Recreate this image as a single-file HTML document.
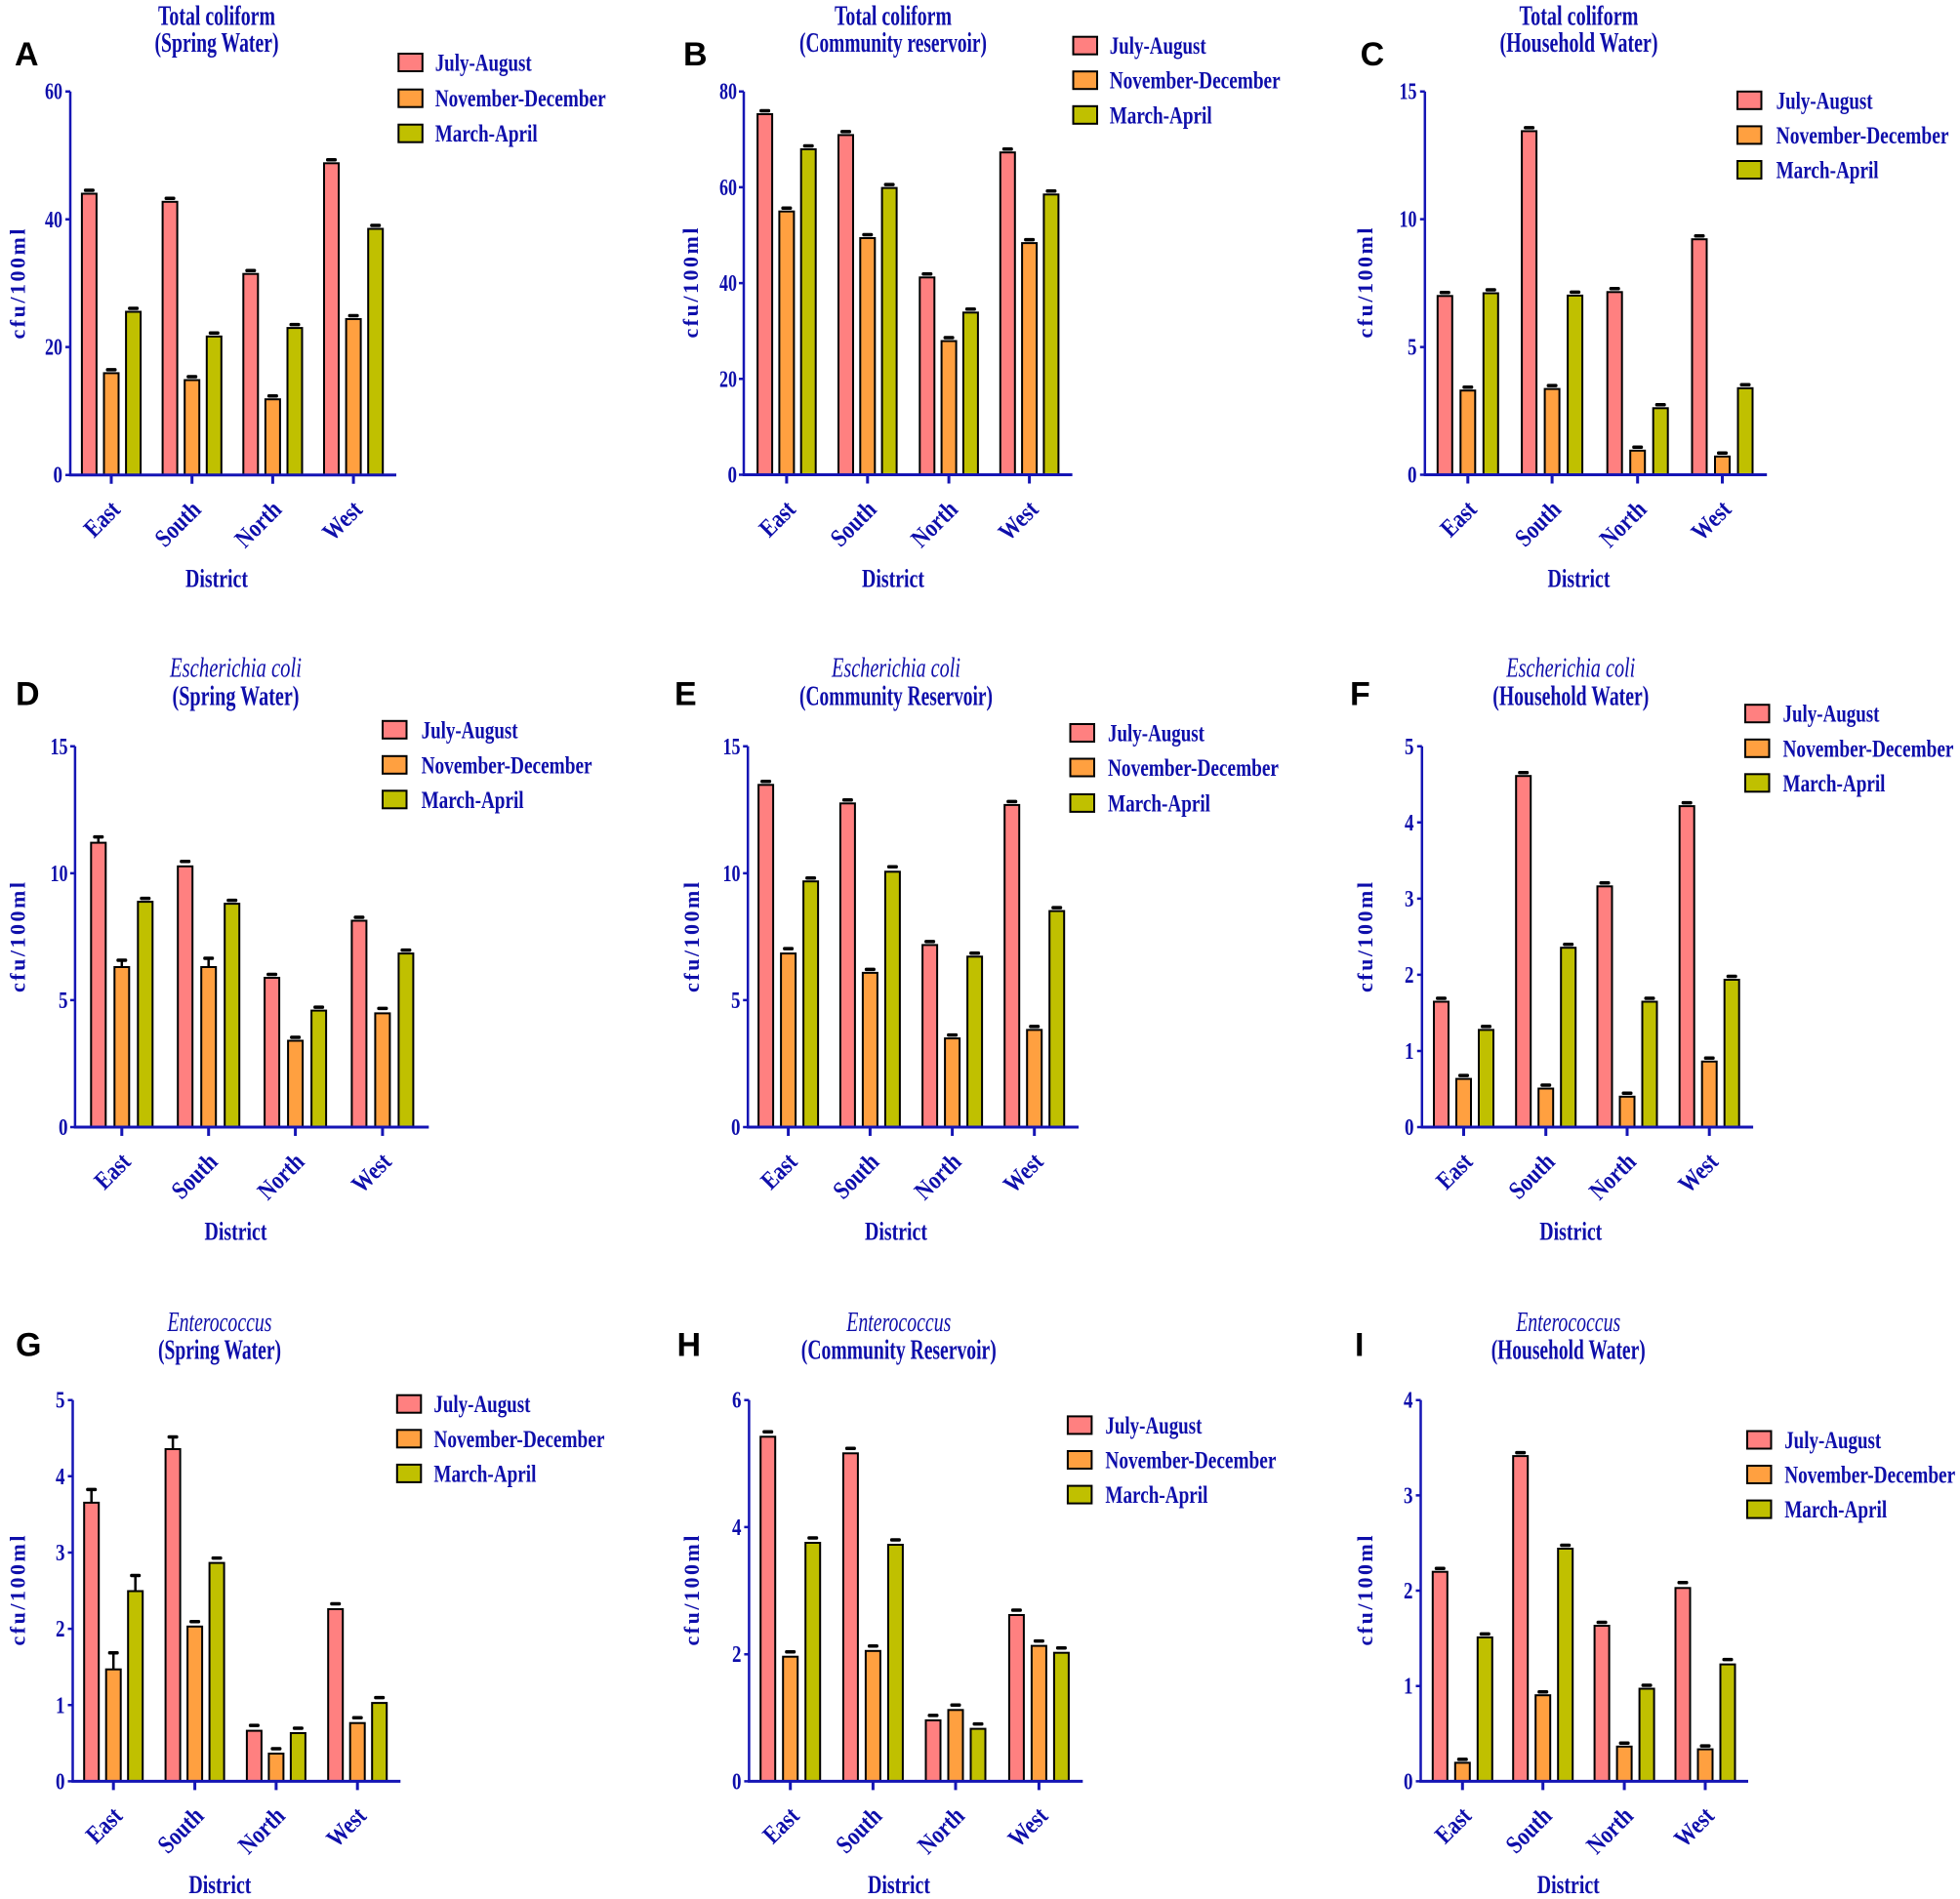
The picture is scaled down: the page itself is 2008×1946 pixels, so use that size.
<!DOCTYPE html>
<html><head><meta charset="utf-8"><style>
html,body{margin:0;padding:0;background:#fff}
svg{display:block}
.t{font-family:"Liberation Serif",serif;font-weight:bold;fill:#0e0eaa}
.ti{font-family:"Liberation Serif",serif;font-style:italic;fill:#0e0eaa}
.L{font-family:"Liberation Sans",sans-serif;font-weight:bold;fill:#000;font-size:34px}
.p{fill:#ff8080;stroke:#000;stroke-width:2}
.o{fill:#ffa040;stroke:#000;stroke-width:2}
.g{fill:#c0c000;stroke:#000;stroke-width:2}
.k{fill:#000}
.ax{stroke:#1515b5;fill:none}
.tk{font-size:24px;text-anchor:end}
.cat{font-size:26px;text-anchor:end}
.lg{font-size:25px}
.ttl{font-size:28px;text-anchor:middle}
.yl{font-size:22px;text-anchor:middle}
.xl{font-size:26px;text-anchor:middle}
</style></head><body>
<svg width="2008" height="1946" viewBox="0 0 2008 1946" xmlns="http://www.w3.org/2000/svg">
<rect width="2008" height="1946" fill="#fff"/>

<!-- ================= PANEL A ================= -->
<text class="L" x="15" y="67">A</text>
<text class="t ttl" x="222" y="25.5" textLength="120" lengthAdjust="spacingAndGlyphs">Total coliform</text>
<text class="t ttl" x="222" y="53" textLength="127" lengthAdjust="spacingAndGlyphs">(Spring Water)</text>
<rect class="p" x="83.9" y="198.5" width="15" height="288.2"/><rect class="k" x="85.9" y="193.25" width="11" height="3.5" rx="1.5"/>
<rect class="o" x="106.5" y="382.4" width="15" height="104.3"/><rect class="k" x="108.5" y="377.15" width="11" height="3.5" rx="1.5"/>
<rect class="g" x="129.1" y="319.5" width="15" height="167.2"/><rect class="k" x="131.1" y="314.25" width="11" height="3.5" rx="1.5"/>
<rect class="p" x="166.6" y="206.8" width="15" height="279.9"/><rect class="k" x="168.6" y="201.55" width="11" height="3.5" rx="1.5"/>
<rect class="o" x="189.2" y="389.5" width="15" height="97.2"/><rect class="k" x="191.2" y="384.25" width="11" height="3.5" rx="1.5"/>
<rect class="g" x="211.8" y="344.8" width="15" height="141.9"/><rect class="k" x="213.8" y="339.55" width="11" height="3.5" rx="1.5"/>
<rect class="p" x="249.3" y="280.7" width="15" height="206"/><rect class="k" x="251.3" y="275.45" width="11" height="3.5" rx="1.5"/>
<rect class="o" x="271.9" y="409.2" width="15" height="77.5"/><rect class="k" x="273.9" y="403.95" width="11" height="3.5" rx="1.5"/>
<rect class="g" x="294.5" y="336.1" width="15" height="150.6"/><rect class="k" x="296.5" y="330.85" width="11" height="3.5" rx="1.5"/>
<rect class="p" x="332" y="167.3" width="15" height="319.4"/><rect class="k" x="334" y="162.05" width="11" height="3.5" rx="1.5"/>
<rect class="o" x="354.6" y="327" width="15" height="159.7"/><rect class="k" x="356.6" y="321.75" width="11" height="3.5" rx="1.5"/>
<rect class="g" x="377.2" y="234.5" width="15" height="252.2"/><rect class="k" x="379.2" y="229.25" width="11" height="3.5" rx="1.5"/>
<path class="ax" stroke-width="2.5" d="M72 93.7V486.7M67 93.7H72M67 224.8H72M67 355.6H72M67 486.7H72"/>
<path class="ax" stroke-width="3" d="M70.8 486.7H406M114 486.7v9M196.7 486.7v9M279.4 486.7v9M362.1 486.7v9"/>
<text class="t tk" x="64" y="494.7" textLength="9.5" lengthAdjust="spacingAndGlyphs">0</text>
<text class="t tk" x="64" y="363.6" textLength="18" lengthAdjust="spacingAndGlyphs">20</text>
<text class="t tk" x="64" y="232.8" textLength="18" lengthAdjust="spacingAndGlyphs">40</text>
<text class="t tk" x="64" y="101.7" textLength="18" lengthAdjust="spacingAndGlyphs">60</text>
<text class="t yl" textLength="113" lengthAdjust="spacing" transform="translate(25.5,291) rotate(-90)">cfu/100ml</text>
<text class="t cat" textLength="40" lengthAdjust="spacingAndGlyphs" transform="translate(124.5,523.7) rotate(-45)">East</text>
<text class="t cat" textLength="54" lengthAdjust="spacingAndGlyphs" transform="translate(207.2,523.7) rotate(-45)">South</text>
<text class="t cat" textLength="55" lengthAdjust="spacingAndGlyphs" transform="translate(289.9,523.7) rotate(-45)">North</text>
<text class="t cat" textLength="45" lengthAdjust="spacingAndGlyphs" transform="translate(372.6,523.7) rotate(-45)">West</text>
<text class="t xl" x="222" y="601.5" textLength="64" lengthAdjust="spacingAndGlyphs">District</text>
<rect class="p" x="408.3" y="55" width="24.5" height="18"/>
<rect class="o" x="408.3" y="91.7" width="24.5" height="18"/>
<rect class="g" x="408.3" y="127.7" width="24.5" height="18"/>
<text class="t lg" x="445.7" y="72.5" textLength="99" lengthAdjust="spacingAndGlyphs">July-August</text>
<text class="t lg" x="445.7" y="109.2" textLength="175" lengthAdjust="spacingAndGlyphs">November-December</text>
<text class="t lg" x="445.7" y="145.2" textLength="105" lengthAdjust="spacingAndGlyphs">March-April</text>

<!-- ================= PANEL B ================= -->
<text class="L" x="700" y="67">B</text>
<text class="t ttl" x="915" y="25.5" textLength="120" lengthAdjust="spacingAndGlyphs">Total coliform</text>
<text class="t ttl" x="915" y="53" textLength="192" lengthAdjust="spacingAndGlyphs">(Community reservoir)</text>
<rect class="p" x="776.1" y="117" width="15" height="369.5"/><rect class="k" x="778.1" y="111.75" width="11" height="3.5" rx="1.5"/>
<rect class="o" x="798.4" y="216.7" width="15" height="269.8"/><rect class="k" x="800.4" y="211.45" width="11" height="3.5" rx="1.5"/>
<rect class="g" x="820.7" y="153" width="15" height="333.5"/><rect class="k" x="822.7" y="147.75" width="11" height="3.5" rx="1.5"/>
<rect class="p" x="859" y="138.4" width="15" height="348.1"/><rect class="k" x="861" y="133.15" width="11" height="3.5" rx="1.5"/>
<rect class="o" x="881.3" y="244" width="15" height="242.5"/><rect class="k" x="883.3" y="238.75" width="11" height="3.5" rx="1.5"/>
<rect class="g" x="903.6" y="192.6" width="15" height="293.9"/><rect class="k" x="905.6" y="187.35" width="11" height="3.5" rx="1.5"/>
<rect class="p" x="942.3" y="284.3" width="15" height="202.2"/><rect class="k" x="944.3" y="279.05" width="11" height="3.5" rx="1.5"/>
<rect class="o" x="964.6" y="349.5" width="15" height="137"/><rect class="k" x="966.6" y="344.25" width="11" height="3.5" rx="1.5"/>
<rect class="g" x="986.9" y="320.3" width="15" height="166.2"/><rect class="k" x="988.9" y="315.05" width="11" height="3.5" rx="1.5"/>
<rect class="p" x="1024.8" y="156.2" width="15" height="330.3"/><rect class="k" x="1026.8" y="150.95" width="11" height="3.5" rx="1.5"/>
<rect class="o" x="1047.1" y="249.1" width="15" height="237.4"/><rect class="k" x="1049.1" y="243.85" width="11" height="3.5" rx="1.5"/>
<rect class="g" x="1069.4" y="199.3" width="15" height="287.2"/><rect class="k" x="1071.4" y="194.05" width="11" height="3.5" rx="1.5"/>
<path class="ax" stroke-width="2.5" d="M762 93.7V486.5M757 93.7H762M757 191.9H762M757 290.1H762M757 388.3H762M757 486.5H762"/>
<path class="ax" stroke-width="3" d="M760.8 486.5H1098.6M805.9 486.5v9M888.8 486.5v9M972.1 486.5v9M1054.6 486.5v9"/>
<text class="t tk" x="755" y="494.5" textLength="9.5" lengthAdjust="spacingAndGlyphs">0</text>
<text class="t tk" x="755" y="396.3" textLength="18" lengthAdjust="spacingAndGlyphs">20</text>
<text class="t tk" x="755" y="298.1" textLength="18" lengthAdjust="spacingAndGlyphs">40</text>
<text class="t tk" x="755" y="199.9" textLength="18" lengthAdjust="spacingAndGlyphs">60</text>
<text class="t tk" x="755" y="101.7" textLength="18" lengthAdjust="spacingAndGlyphs">80</text>
<text class="t yl" textLength="113" lengthAdjust="spacing" transform="translate(715,290) rotate(-90)">cfu/100ml</text>
<text class="t cat" textLength="40" lengthAdjust="spacingAndGlyphs" transform="translate(816.4,523.5) rotate(-45)">East</text>
<text class="t cat" textLength="54" lengthAdjust="spacingAndGlyphs" transform="translate(899.3,523.5) rotate(-45)">South</text>
<text class="t cat" textLength="55" lengthAdjust="spacingAndGlyphs" transform="translate(982.6,523.5) rotate(-45)">North</text>
<text class="t cat" textLength="45" lengthAdjust="spacingAndGlyphs" transform="translate(1065.1,523.5) rotate(-45)">West</text>
<text class="t xl" x="915" y="601.5" textLength="64" lengthAdjust="spacingAndGlyphs">District</text>
<rect class="p" x="1099.5" y="37.7" width="24.5" height="18"/>
<rect class="o" x="1099.5" y="73.2" width="24.5" height="18"/>
<rect class="g" x="1099.5" y="108.8" width="24.5" height="18"/>
<text class="t lg" x="1136.7" y="55.2" textLength="99" lengthAdjust="spacingAndGlyphs">July-August</text>
<text class="t lg" x="1136.7" y="90.7" textLength="175" lengthAdjust="spacingAndGlyphs">November-December</text>
<text class="t lg" x="1136.7" y="126.3" textLength="105" lengthAdjust="spacingAndGlyphs">March-April</text>

<!-- ================= PANEL C ================= -->
<text class="L" x="1393.6" y="67">C</text>
<text class="t ttl" x="1617.5" y="25.5" textLength="122" lengthAdjust="spacingAndGlyphs">Total coliform</text>
<text class="t ttl" x="1617.5" y="53" textLength="162" lengthAdjust="spacingAndGlyphs">(Household Water)</text>
<rect class="p" x="1472.8" y="303.3" width="15" height="183.2"/><rect class="k" x="1474.8" y="298.05" width="11" height="3.5" rx="1.5"/>
<rect class="o" x="1496.3" y="400.2" width="15" height="86.3"/><rect class="k" x="1498.3" y="394.95" width="11" height="3.5" rx="1.5"/>
<rect class="g" x="1519.8" y="300.5" width="15" height="186"/><rect class="k" x="1521.8" y="295.25" width="11" height="3.5" rx="1.5"/>
<rect class="p" x="1559.1" y="134.4" width="15" height="352.1"/><rect class="k" x="1561.1" y="129.15" width="11" height="3.5" rx="1.5"/>
<rect class="o" x="1582.6" y="398.6" width="15" height="87.9"/><rect class="k" x="1584.6" y="393.35" width="11" height="3.5" rx="1.5"/>
<rect class="g" x="1606.1" y="302.9" width="15" height="183.6"/><rect class="k" x="1608.1" y="297.65" width="11" height="3.5" rx="1.5"/>
<rect class="p" x="1646.7" y="299.3" width="15" height="187.2"/><rect class="k" x="1648.7" y="294.05" width="11" height="3.5" rx="1.5"/>
<rect class="o" x="1670.2" y="461.8" width="15" height="24.7"/><rect class="k" x="1672.2" y="456.55" width="11" height="3.5" rx="1.5"/>
<rect class="g" x="1693.7" y="418.3" width="15" height="68.2"/><rect class="k" x="1695.7" y="413.05" width="11" height="3.5" rx="1.5"/>
<rect class="p" x="1733.5" y="245.2" width="15" height="241.3"/><rect class="k" x="1735.5" y="239.95" width="11" height="3.5" rx="1.5"/>
<rect class="o" x="1757" y="467.8" width="15" height="18.7"/><rect class="k" x="1759" y="462.55" width="11" height="3.5" rx="1.5"/>
<rect class="g" x="1780.5" y="397.8" width="15" height="88.7"/><rect class="k" x="1782.5" y="392.55" width="11" height="3.5" rx="1.5"/>
<path class="ax" stroke-width="2.5" d="M1459.8 93.7V486.5M1454.8 93.7H1459.8M1454.8 224.6H1459.8M1454.8 355.6H1459.8M1454.8 486.5H1459.8"/>
<path class="ax" stroke-width="3" d="M1458.6 486.5H1810.2M1503.8 486.5v9M1590.1 486.5v9M1677.7 486.5v9M1764.5 486.5v9"/>
<text class="t tk" x="1451.5" y="494.5" textLength="9.5" lengthAdjust="spacingAndGlyphs">0</text>
<text class="t tk" x="1451.5" y="363.6" textLength="9.5" lengthAdjust="spacingAndGlyphs">5</text>
<text class="t tk" x="1451.5" y="232.6" textLength="18" lengthAdjust="spacingAndGlyphs">10</text>
<text class="t tk" x="1451.5" y="101.7" textLength="18" lengthAdjust="spacingAndGlyphs">15</text>
<text class="t yl" textLength="113" lengthAdjust="spacing" transform="translate(1406,290) rotate(-90)">cfu/100ml</text>
<text class="t cat" textLength="40" lengthAdjust="spacingAndGlyphs" transform="translate(1514.3,523.5) rotate(-45)">East</text>
<text class="t cat" textLength="54" lengthAdjust="spacingAndGlyphs" transform="translate(1600.6,523.5) rotate(-45)">South</text>
<text class="t cat" textLength="55" lengthAdjust="spacingAndGlyphs" transform="translate(1688.2,523.5) rotate(-45)">North</text>
<text class="t cat" textLength="45" lengthAdjust="spacingAndGlyphs" transform="translate(1775,523.5) rotate(-45)">West</text>
<text class="t xl" x="1617.5" y="601.5" textLength="64" lengthAdjust="spacingAndGlyphs">District</text>
<rect class="p" x="1780" y="93.8" width="24.5" height="18"/>
<rect class="o" x="1780" y="129.4" width="24.5" height="18"/>
<rect class="g" x="1780" y="165" width="24.5" height="18"/>
<text class="t lg" x="1819.6" y="111.3" textLength="99" lengthAdjust="spacingAndGlyphs">July-August</text>
<text class="t lg" x="1819.6" y="146.9" textLength="177" lengthAdjust="spacingAndGlyphs">November-December</text>
<text class="t lg" x="1819.6" y="182.5" textLength="105" lengthAdjust="spacingAndGlyphs">March-April</text>

<!-- ================= PANEL D ================= -->
<text class="L" x="16" y="722.5">D</text>
<text class="ti ttl" x="241.5" y="693.7" textLength="135" lengthAdjust="spacingAndGlyphs">Escherichia coli</text>
<text class="t ttl" x="241.5" y="722.5" textLength="130" lengthAdjust="spacingAndGlyphs">(Spring Water)</text>
<rect class="p" x="93.3" y="863.6" width="15" height="291.4"/><rect class="k" x="99.55" y="857.6" width="2.5" height="6"/><rect class="k" x="95.3" y="855.85" width="11" height="3.5" rx="1.5"/>
<rect class="o" x="117.3" y="991" width="15" height="164"/><rect class="k" x="123.55" y="984" width="2.5" height="7"/><rect class="k" x="119.3" y="982.25" width="11" height="3.5" rx="1.5"/>
<rect class="g" x="141.3" y="924.1" width="15" height="230.9"/><rect class="k" x="143.3" y="918.85" width="11" height="3.5" rx="1.5"/>
<rect class="p" x="182.2" y="887.8" width="15" height="267.2"/><rect class="k" x="184.2" y="881.05" width="11" height="3.5" rx="1.5"/>
<rect class="o" x="206.2" y="991" width="15" height="164"/><rect class="k" x="212.45" y="982" width="2.5" height="9"/><rect class="k" x="208.2" y="980.25" width="11" height="3.5" rx="1.5"/>
<rect class="g" x="230.2" y="926.1" width="15" height="228.9"/><rect class="k" x="232.2" y="920.85" width="11" height="3.5" rx="1.5"/>
<rect class="p" x="271.1" y="1002" width="15" height="153"/><rect class="k" x="273.1" y="996.75" width="11" height="3.5" rx="1.5"/>
<rect class="o" x="295.1" y="1066.5" width="15" height="88.5"/><rect class="k" x="297.1" y="1061.25" width="11" height="3.5" rx="1.5"/>
<rect class="g" x="319.1" y="1035.6" width="15" height="119.4"/><rect class="k" x="321.1" y="1030.35" width="11" height="3.5" rx="1.5"/>
<rect class="p" x="360.4" y="943.5" width="15" height="211.5"/><rect class="k" x="362.4" y="938.25" width="11" height="3.5" rx="1.5"/>
<rect class="o" x="384.4" y="1038.4" width="15" height="116.6"/><rect class="k" x="386.4" y="1031.65" width="11" height="3.5" rx="1.5"/>
<rect class="g" x="408.4" y="977.1" width="15" height="177.9"/><rect class="k" x="410.4" y="971.85" width="11" height="3.5" rx="1.5"/>
<path class="ax" stroke-width="2.5" d="M76.9 764.8V1155M71.9 764.8H76.9M71.9 894.9H76.9M71.9 1024.9H76.9M71.9 1155H76.9"/>
<path class="ax" stroke-width="3" d="M75.7 1155H439.3M124.8 1155v9M213.7 1155v9M302.6 1155v9M391.9 1155v9"/>
<text class="t tk" x="69.5" y="1163" textLength="9.5" lengthAdjust="spacingAndGlyphs">0</text>
<text class="t tk" x="69.5" y="1032.9" textLength="9.5" lengthAdjust="spacingAndGlyphs">5</text>
<text class="t tk" x="69.5" y="902.9" textLength="18" lengthAdjust="spacingAndGlyphs">10</text>
<text class="t tk" x="69.5" y="772.8" textLength="18" lengthAdjust="spacingAndGlyphs">15</text>
<text class="t yl" textLength="113" lengthAdjust="spacing" transform="translate(25.5,960.5) rotate(-90)">cfu/100ml</text>
<text class="t cat" textLength="40" lengthAdjust="spacingAndGlyphs" transform="translate(135.3,1192) rotate(-45)">East</text>
<text class="t cat" textLength="54" lengthAdjust="spacingAndGlyphs" transform="translate(224.2,1192) rotate(-45)">South</text>
<text class="t cat" textLength="55" lengthAdjust="spacingAndGlyphs" transform="translate(313.1,1192) rotate(-45)">North</text>
<text class="t cat" textLength="45" lengthAdjust="spacingAndGlyphs" transform="translate(402.4,1192) rotate(-45)">West</text>
<text class="t xl" x="241.5" y="1270.5" textLength="64" lengthAdjust="spacingAndGlyphs">District</text>
<rect class="p" x="392" y="738.8" width="24.5" height="18"/>
<rect class="o" x="392" y="774.8" width="24.5" height="18"/>
<rect class="g" x="392" y="810.3" width="24.5" height="18"/>
<text class="t lg" x="431.6" y="756.3" textLength="99" lengthAdjust="spacingAndGlyphs">July-August</text>
<text class="t lg" x="431.6" y="792.3" textLength="175" lengthAdjust="spacingAndGlyphs">November-December</text>
<text class="t lg" x="431.6" y="827.8" textLength="105" lengthAdjust="spacingAndGlyphs">March-April</text>

<!-- ================= PANEL E ================= -->
<text class="L" x="691" y="722.5">E</text>
<text class="ti ttl" x="918" y="693.7" textLength="132" lengthAdjust="spacingAndGlyphs">Escherichia coli</text>
<text class="t ttl" x="918" y="722.5" textLength="198" lengthAdjust="spacingAndGlyphs">(Community Reservoir)</text>
<rect class="p" x="777.1" y="804.3" width="15" height="350.7"/><rect class="k" x="779.1" y="799.05" width="11" height="3.5" rx="1.5"/>
<rect class="o" x="800.1" y="977.1" width="15" height="177.9"/><rect class="k" x="802.1" y="970.35" width="11" height="3.5" rx="1.5"/>
<rect class="g" x="823.1" y="903.2" width="15" height="251.8"/><rect class="k" x="825.1" y="897.95" width="11" height="3.5" rx="1.5"/>
<rect class="p" x="860.9" y="823.3" width="15" height="331.7"/><rect class="k" x="862.9" y="818.05" width="11" height="3.5" rx="1.5"/>
<rect class="o" x="883.9" y="996.9" width="15" height="158.1"/><rect class="k" x="885.9" y="991.65" width="11" height="3.5" rx="1.5"/>
<rect class="g" x="906.9" y="893.3" width="15" height="261.7"/><rect class="k" x="908.9" y="886.55" width="11" height="3.5" rx="1.5"/>
<rect class="p" x="945.1" y="968.4" width="15" height="186.6"/><rect class="k" x="947.1" y="963.15" width="11" height="3.5" rx="1.5"/>
<rect class="o" x="968.1" y="1064.1" width="15" height="90.9"/><rect class="k" x="970.1" y="1058.85" width="11" height="3.5" rx="1.5"/>
<rect class="g" x="991.1" y="980.3" width="15" height="174.7"/><rect class="k" x="993.1" y="975.05" width="11" height="3.5" rx="1.5"/>
<rect class="p" x="1029.2" y="824.9" width="15" height="330.1"/><rect class="k" x="1031.2" y="819.65" width="11" height="3.5" rx="1.5"/>
<rect class="o" x="1052.2" y="1055.4" width="15" height="99.6"/><rect class="k" x="1054.2" y="1050.15" width="11" height="3.5" rx="1.5"/>
<rect class="g" x="1075.2" y="933.6" width="15" height="221.4"/><rect class="k" x="1077.2" y="928.35" width="11" height="3.5" rx="1.5"/>
<path class="ax" stroke-width="2.5" d="M766.2 764.8V1155M761.2 764.8H766.2M761.2 894.9H766.2M761.2 1024.9H766.2M761.2 1155H766.2"/>
<path class="ax" stroke-width="3" d="M765 1155H1105M807.6 1155v9M891.4 1155v9M975.6 1155v9M1059.7 1155v9"/>
<text class="t tk" x="758.5" y="1163" textLength="9.5" lengthAdjust="spacingAndGlyphs">0</text>
<text class="t tk" x="758.5" y="1032.9" textLength="9.5" lengthAdjust="spacingAndGlyphs">5</text>
<text class="t tk" x="758.5" y="902.9" textLength="18" lengthAdjust="spacingAndGlyphs">10</text>
<text class="t tk" x="758.5" y="772.8" textLength="18" lengthAdjust="spacingAndGlyphs">15</text>
<text class="t yl" textLength="113" lengthAdjust="spacing" transform="translate(716,960.5) rotate(-90)">cfu/100ml</text>
<text class="t cat" textLength="40" lengthAdjust="spacingAndGlyphs" transform="translate(818.1,1192) rotate(-45)">East</text>
<text class="t cat" textLength="54" lengthAdjust="spacingAndGlyphs" transform="translate(901.9,1192) rotate(-45)">South</text>
<text class="t cat" textLength="55" lengthAdjust="spacingAndGlyphs" transform="translate(986.1,1192) rotate(-45)">North</text>
<text class="t cat" textLength="45" lengthAdjust="spacingAndGlyphs" transform="translate(1070.2,1192) rotate(-45)">West</text>
<text class="t xl" x="918" y="1270.5" textLength="64" lengthAdjust="spacingAndGlyphs">District</text>
<rect class="p" x="1096.5" y="742" width="24.5" height="18"/>
<rect class="o" x="1096.5" y="777.5" width="24.5" height="18"/>
<rect class="g" x="1096.5" y="813.9" width="24.5" height="18"/>
<text class="t lg" x="1135" y="759.5" textLength="99" lengthAdjust="spacingAndGlyphs">July-August</text>
<text class="t lg" x="1135" y="795" textLength="175" lengthAdjust="spacingAndGlyphs">November-December</text>
<text class="t lg" x="1135" y="831.4" textLength="105" lengthAdjust="spacingAndGlyphs">March-April</text>

<!-- ================= PANEL F ================= -->
<text class="L" x="1383" y="722.5">F</text>
<text class="ti ttl" x="1609.3" y="693.7" textLength="132" lengthAdjust="spacingAndGlyphs">Escherichia coli</text>
<text class="t ttl" x="1609.3" y="722.5" textLength="160" lengthAdjust="spacingAndGlyphs">(Household Water)</text>
<rect class="p" x="1469" y="1026.5" width="15" height="128.5"/><rect class="k" x="1471" y="1021.25" width="11" height="3.5" rx="1.5"/>
<rect class="o" x="1492" y="1105.6" width="15" height="49.4"/><rect class="k" x="1494" y="1100.35" width="11" height="3.5" rx="1.5"/>
<rect class="g" x="1515" y="1055.4" width="15" height="99.6"/><rect class="k" x="1517" y="1050.15" width="11" height="3.5" rx="1.5"/>
<rect class="p" x="1553.2" y="795.2" width="15" height="359.8"/><rect class="k" x="1555.2" y="789.95" width="11" height="3.5" rx="1.5"/>
<rect class="o" x="1576.2" y="1115.5" width="15" height="39.5"/><rect class="k" x="1578.2" y="1110.25" width="11" height="3.5" rx="1.5"/>
<rect class="g" x="1599.2" y="971.2" width="15" height="183.8"/><rect class="k" x="1601.2" y="965.95" width="11" height="3.5" rx="1.5"/>
<rect class="p" x="1636.5" y="908.3" width="15" height="246.7"/><rect class="k" x="1638.5" y="903.05" width="11" height="3.5" rx="1.5"/>
<rect class="o" x="1659.5" y="1123.8" width="15" height="31.2"/><rect class="k" x="1661.5" y="1118.55" width="11" height="3.5" rx="1.5"/>
<rect class="g" x="1682.5" y="1026.5" width="15" height="128.5"/><rect class="k" x="1684.5" y="1021.25" width="11" height="3.5" rx="1.5"/>
<rect class="p" x="1720.7" y="826.1" width="15" height="328.9"/><rect class="k" x="1722.7" y="820.85" width="11" height="3.5" rx="1.5"/>
<rect class="o" x="1743.7" y="1087.8" width="15" height="67.2"/><rect class="k" x="1745.7" y="1082.55" width="11" height="3.5" rx="1.5"/>
<rect class="g" x="1766.7" y="1004" width="15" height="151"/><rect class="k" x="1768.7" y="998.75" width="11" height="3.5" rx="1.5"/>
<path class="ax" stroke-width="2.5" d="M1456.8 764.8V1155M1451.8 764.8H1456.8M1451.8 842.8H1456.8M1451.8 920.9H1456.8M1451.8 998.9H1456.8M1451.8 1077H1456.8M1451.8 1155H1456.8"/>
<path class="ax" stroke-width="3" d="M1455.6 1155H1796.1M1499.5 1155v9M1583.7 1155v9M1667 1155v9M1751.2 1155v9"/>
<text class="t tk" x="1448.5" y="1163" textLength="9.5" lengthAdjust="spacingAndGlyphs">0</text>
<text class="t tk" x="1448.5" y="1085" textLength="9.5" lengthAdjust="spacingAndGlyphs">1</text>
<text class="t tk" x="1448.5" y="1006.9" textLength="9.5" lengthAdjust="spacingAndGlyphs">2</text>
<text class="t tk" x="1448.5" y="928.9" textLength="9.5" lengthAdjust="spacingAndGlyphs">3</text>
<text class="t tk" x="1448.5" y="850.8" textLength="9.5" lengthAdjust="spacingAndGlyphs">4</text>
<text class="t tk" x="1448.5" y="772.8" textLength="9.5" lengthAdjust="spacingAndGlyphs">5</text>
<text class="t yl" textLength="113" lengthAdjust="spacing" transform="translate(1406,960.5) rotate(-90)">cfu/100ml</text>
<text class="t cat" textLength="40" lengthAdjust="spacingAndGlyphs" transform="translate(1510,1192) rotate(-45)">East</text>
<text class="t cat" textLength="54" lengthAdjust="spacingAndGlyphs" transform="translate(1594.2,1192) rotate(-45)">South</text>
<text class="t cat" textLength="55" lengthAdjust="spacingAndGlyphs" transform="translate(1677.5,1192) rotate(-45)">North</text>
<text class="t cat" textLength="45" lengthAdjust="spacingAndGlyphs" transform="translate(1761.7,1192) rotate(-45)">West</text>
<text class="t xl" x="1609.3" y="1270.5" textLength="64" lengthAdjust="spacingAndGlyphs">District</text>
<rect class="p" x="1788" y="722.2" width="24.5" height="18"/>
<rect class="o" x="1788" y="757.8" width="24.5" height="18"/>
<rect class="g" x="1788" y="793.3" width="24.5" height="18"/>
<text class="t lg" x="1826.5" y="739.7" textLength="99" lengthAdjust="spacingAndGlyphs">July-August</text>
<text class="t lg" x="1826.5" y="775.3" textLength="175" lengthAdjust="spacingAndGlyphs">November-December</text>
<text class="t lg" x="1826.5" y="810.8" textLength="105" lengthAdjust="spacingAndGlyphs">March-April</text>

<!-- ================= PANEL G ================= -->
<text class="L" x="16" y="1389.3">G</text>
<text class="ti ttl" x="225" y="1364.1" textLength="107" lengthAdjust="spacingAndGlyphs">Enterococcus</text>
<text class="t ttl" x="225" y="1392.4" textLength="126" lengthAdjust="spacingAndGlyphs">(Spring Water)</text>
<rect class="p" x="86.2" y="1539.9" width="15" height="285.5"/><rect class="k" x="92.45" y="1526.4" width="2.5" height="13.5"/><rect class="k" x="88.2" y="1524.65" width="11" height="3.5" rx="1.5"/>
<rect class="o" x="108.7" y="1710.7" width="15" height="114.7"/><rect class="k" x="114.95" y="1693.7" width="2.5" height="17"/><rect class="k" x="110.7" y="1691.95" width="11" height="3.5" rx="1.5"/>
<rect class="g" x="131.2" y="1630.5" width="15" height="194.9"/><rect class="k" x="137.45" y="1614.5" width="2.5" height="16"/><rect class="k" x="133.2" y="1612.75" width="11" height="3.5" rx="1.5"/>
<rect class="p" x="169.6" y="1485" width="15" height="340.4"/><rect class="k" x="175.85" y="1472.5" width="2.5" height="12.5"/><rect class="k" x="171.6" y="1470.75" width="11" height="3.5" rx="1.5"/>
<rect class="o" x="192.1" y="1666.8" width="15" height="158.6"/><rect class="k" x="194.1" y="1660.05" width="11" height="3.5" rx="1.5"/>
<rect class="g" x="214.6" y="1601.6" width="15" height="223.8"/><rect class="k" x="216.6" y="1594.85" width="11" height="3.5" rx="1.5"/>
<rect class="p" x="252.9" y="1773.6" width="15" height="51.8"/><rect class="k" x="254.9" y="1766.35" width="11" height="3.5" rx="1.5"/>
<rect class="o" x="275.4" y="1797" width="15" height="28.4"/><rect class="k" x="277.4" y="1790.25" width="11" height="3.5" rx="1.5"/>
<rect class="g" x="297.9" y="1776" width="15" height="49.4"/><rect class="k" x="299.9" y="1769.25" width="11" height="3.5" rx="1.5"/>
<rect class="p" x="336.2" y="1649" width="15" height="176.4"/><rect class="k" x="338.2" y="1641.75" width="11" height="3.5" rx="1.5"/>
<rect class="o" x="358.7" y="1765.7" width="15" height="59.7"/><rect class="k" x="360.7" y="1758.45" width="11" height="3.5" rx="1.5"/>
<rect class="g" x="381.2" y="1745.1" width="15" height="80.3"/><rect class="k" x="383.2" y="1737.85" width="11" height="3.5" rx="1.5"/>
<path class="ax" stroke-width="2.5" d="M74.5 1434.7V1825.4M69.5 1434.7H74.5M69.5 1512.8H74.5M69.5 1591H74.5M69.5 1669.1H74.5M69.5 1747.3H74.5M69.5 1825.4H74.5"/>
<path class="ax" stroke-width="3" d="M73.3 1825.4H410.3M116.2 1825.4v9M199.6 1825.4v9M282.9 1825.4v9M366.2 1825.4v9"/>
<text class="t tk" x="66.5" y="1833.4" textLength="9.5" lengthAdjust="spacingAndGlyphs">0</text>
<text class="t tk" x="66.5" y="1755.3" textLength="9.5" lengthAdjust="spacingAndGlyphs">1</text>
<text class="t tk" x="66.5" y="1677.1" textLength="9.5" lengthAdjust="spacingAndGlyphs">2</text>
<text class="t tk" x="66.5" y="1599" textLength="9.5" lengthAdjust="spacingAndGlyphs">3</text>
<text class="t tk" x="66.5" y="1520.8" textLength="9.5" lengthAdjust="spacingAndGlyphs">4</text>
<text class="t tk" x="66.5" y="1442.7" textLength="9.5" lengthAdjust="spacingAndGlyphs">5</text>
<text class="t yl" textLength="113" lengthAdjust="spacing" transform="translate(25.5,1630) rotate(-90)">cfu/100ml</text>
<text class="t cat" textLength="40" lengthAdjust="spacingAndGlyphs" transform="translate(126.7,1862.4) rotate(-45)">East</text>
<text class="t cat" textLength="54" lengthAdjust="spacingAndGlyphs" transform="translate(210.1,1862.4) rotate(-45)">South</text>
<text class="t cat" textLength="55" lengthAdjust="spacingAndGlyphs" transform="translate(293.4,1862.4) rotate(-45)">North</text>
<text class="t cat" textLength="45" lengthAdjust="spacingAndGlyphs" transform="translate(376.7,1862.4) rotate(-45)">West</text>
<text class="t xl" x="225.4" y="1940" textLength="64" lengthAdjust="spacingAndGlyphs">District</text>
<rect class="p" x="406.8" y="1429.7" width="24.5" height="18"/>
<rect class="o" x="406.8" y="1465.3" width="24.5" height="18"/>
<rect class="g" x="406.8" y="1500.9" width="24.5" height="18"/>
<text class="t lg" x="444.4" y="1447.2" textLength="99" lengthAdjust="spacingAndGlyphs">July-August</text>
<text class="t lg" x="444.4" y="1482.8" textLength="175" lengthAdjust="spacingAndGlyphs">November-December</text>
<text class="t lg" x="444.4" y="1518.4" textLength="105" lengthAdjust="spacingAndGlyphs">March-April</text>

<!-- ================= PANEL H ================= -->
<text class="L" x="693.5" y="1389.3">H</text>
<text class="ti ttl" x="920.8" y="1364.1" textLength="107" lengthAdjust="spacingAndGlyphs">Enterococcus</text>
<text class="t ttl" x="920.8" y="1392.4" textLength="200" lengthAdjust="spacingAndGlyphs">(Community Reservoir)</text>
<rect class="p" x="779.2" y="1472.3" width="15" height="353.1"/><rect class="k" x="781.2" y="1465.55" width="11" height="3.5" rx="1.5"/>
<rect class="o" x="802.2" y="1697.7" width="15" height="127.7"/><rect class="k" x="804.2" y="1690.95" width="11" height="3.5" rx="1.5"/>
<rect class="g" x="825.2" y="1581" width="15" height="244.4"/><rect class="k" x="827.2" y="1574.25" width="11" height="3.5" rx="1.5"/>
<rect class="p" x="863.9" y="1489.3" width="15" height="336.1"/><rect class="k" x="865.9" y="1482.55" width="11" height="3.5" rx="1.5"/>
<rect class="o" x="886.9" y="1691.8" width="15" height="133.6"/><rect class="k" x="888.9" y="1685.05" width="11" height="3.5" rx="1.5"/>
<rect class="g" x="909.9" y="1583" width="15" height="242.4"/><rect class="k" x="911.9" y="1576.25" width="11" height="3.5" rx="1.5"/>
<rect class="p" x="948.5" y="1762.9" width="15" height="62.5"/><rect class="k" x="950.5" y="1756.15" width="11" height="3.5" rx="1.5"/>
<rect class="o" x="971.5" y="1752.3" width="15" height="73.1"/><rect class="k" x="973.5" y="1745.55" width="11" height="3.5" rx="1.5"/>
<rect class="g" x="994.5" y="1771.6" width="15" height="53.8"/><rect class="k" x="996.5" y="1764.85" width="11" height="3.5" rx="1.5"/>
<rect class="p" x="1033.9" y="1655" width="15" height="170.4"/><rect class="k" x="1035.9" y="1648.25" width="11" height="3.5" rx="1.5"/>
<rect class="o" x="1056.9" y="1686.6" width="15" height="138.8"/><rect class="k" x="1058.9" y="1679.85" width="11" height="3.5" rx="1.5"/>
<rect class="g" x="1079.9" y="1693.7" width="15" height="131.7"/><rect class="k" x="1081.9" y="1686.95" width="11" height="3.5" rx="1.5"/>
<path class="ax" stroke-width="2.5" d="M767.4 1434.7V1825.4M762.4 1434.7H767.4M762.4 1564.9H767.4M762.4 1695.2H767.4M762.4 1825.4H767.4"/>
<path class="ax" stroke-width="3" d="M766.2 1825.4H1109.3M809.7 1825.4v9M894.4 1825.4v9M979 1825.4v9M1064.4 1825.4v9"/>
<text class="t tk" x="759.5" y="1833.4" textLength="9.5" lengthAdjust="spacingAndGlyphs">0</text>
<text class="t tk" x="759.5" y="1703.2" textLength="9.5" lengthAdjust="spacingAndGlyphs">2</text>
<text class="t tk" x="759.5" y="1572.9" textLength="9.5" lengthAdjust="spacingAndGlyphs">4</text>
<text class="t tk" x="759.5" y="1442.7" textLength="9.5" lengthAdjust="spacingAndGlyphs">6</text>
<text class="t yl" textLength="113" lengthAdjust="spacing" transform="translate(716,1630) rotate(-90)">cfu/100ml</text>
<text class="t cat" textLength="40" lengthAdjust="spacingAndGlyphs" transform="translate(820.2,1862.4) rotate(-45)">East</text>
<text class="t cat" textLength="54" lengthAdjust="spacingAndGlyphs" transform="translate(904.9,1862.4) rotate(-45)">South</text>
<text class="t cat" textLength="55" lengthAdjust="spacingAndGlyphs" transform="translate(989.5,1862.4) rotate(-45)">North</text>
<text class="t cat" textLength="45" lengthAdjust="spacingAndGlyphs" transform="translate(1074.9,1862.4) rotate(-45)">West</text>
<text class="t xl" x="921" y="1940" textLength="64" lengthAdjust="spacingAndGlyphs">District</text>
<rect class="p" x="1093.9" y="1451.4" width="24.5" height="18"/>
<rect class="o" x="1093.9" y="1487" width="24.5" height="18"/>
<rect class="g" x="1093.9" y="1522.6" width="24.5" height="18"/>
<text class="t lg" x="1132.4" y="1468.9" textLength="99" lengthAdjust="spacingAndGlyphs">July-August</text>
<text class="t lg" x="1132.4" y="1504.5" textLength="175" lengthAdjust="spacingAndGlyphs">November-December</text>
<text class="t lg" x="1132.4" y="1540.1" textLength="105" lengthAdjust="spacingAndGlyphs">March-April</text>

<!-- ================= PANEL I ================= -->
<text class="L" x="1388" y="1389.3">I</text>
<text class="ti ttl" x="1606.7" y="1364.1" textLength="107" lengthAdjust="spacingAndGlyphs">Enterococcus</text>
<text class="t ttl" x="1606.7" y="1392.4" textLength="158" lengthAdjust="spacingAndGlyphs">(Household Water)</text>
<rect class="p" x="1467.8" y="1610.7" width="15" height="214.7"/><rect class="k" x="1469.8" y="1605.45" width="11" height="3.5" rx="1.5"/>
<rect class="o" x="1490.8" y="1806.4" width="15" height="19"/><rect class="k" x="1492.8" y="1801.15" width="11" height="3.5" rx="1.5"/>
<rect class="g" x="1513.8" y="1677.9" width="15" height="147.5"/><rect class="k" x="1515.8" y="1672.65" width="11" height="3.5" rx="1.5"/>
<rect class="p" x="1550.2" y="1492.1" width="15" height="333.3"/><rect class="k" x="1552.2" y="1486.85" width="11" height="3.5" rx="1.5"/>
<rect class="o" x="1573.2" y="1737.2" width="15" height="88.2"/><rect class="k" x="1575.2" y="1731.95" width="11" height="3.5" rx="1.5"/>
<rect class="g" x="1596.2" y="1587" width="15" height="238.4"/><rect class="k" x="1598.2" y="1581.75" width="11" height="3.5" rx="1.5"/>
<rect class="p" x="1633.6" y="1666" width="15" height="159.4"/><rect class="k" x="1635.6" y="1660.75" width="11" height="3.5" rx="1.5"/>
<rect class="o" x="1656.6" y="1789.8" width="15" height="35.6"/><rect class="k" x="1658.6" y="1784.55" width="11" height="3.5" rx="1.5"/>
<rect class="g" x="1679.6" y="1730.5" width="15" height="94.9"/><rect class="k" x="1681.6" y="1725.25" width="11" height="3.5" rx="1.5"/>
<rect class="p" x="1716.5" y="1627.3" width="15" height="198.1"/><rect class="k" x="1718.5" y="1620.05" width="11" height="3.5" rx="1.5"/>
<rect class="o" x="1739.5" y="1792.6" width="15" height="32.8"/><rect class="k" x="1741.5" y="1787.35" width="11" height="3.5" rx="1.5"/>
<rect class="g" x="1762.5" y="1705.6" width="15" height="119.8"/><rect class="k" x="1764.5" y="1698.85" width="11" height="3.5" rx="1.5"/>
<path class="ax" stroke-width="2.5" d="M1455.5 1434.7V1825.4M1450.5 1434.7H1455.5M1450.5 1532.4H1455.5M1450.5 1630H1455.5M1450.5 1727.7H1455.5M1450.5 1825.4H1455.5"/>
<path class="ax" stroke-width="3" d="M1454.3 1825.4H1791M1498.3 1825.4v9M1580.7 1825.4v9M1664.1 1825.4v9M1747 1825.4v9"/>
<text class="t tk" x="1447.5" y="1833.4" textLength="9.5" lengthAdjust="spacingAndGlyphs">0</text>
<text class="t tk" x="1447.5" y="1735.7" textLength="9.5" lengthAdjust="spacingAndGlyphs">1</text>
<text class="t tk" x="1447.5" y="1638" textLength="9.5" lengthAdjust="spacingAndGlyphs">2</text>
<text class="t tk" x="1447.5" y="1540.4" textLength="9.5" lengthAdjust="spacingAndGlyphs">3</text>
<text class="t tk" x="1447.5" y="1442.7" textLength="9.5" lengthAdjust="spacingAndGlyphs">4</text>
<text class="t yl" textLength="113" lengthAdjust="spacing" transform="translate(1406,1630) rotate(-90)">cfu/100ml</text>
<text class="t cat" textLength="40" lengthAdjust="spacingAndGlyphs" transform="translate(1508.8,1862.4) rotate(-45)">East</text>
<text class="t cat" textLength="54" lengthAdjust="spacingAndGlyphs" transform="translate(1591.2,1862.4) rotate(-45)">South</text>
<text class="t cat" textLength="55" lengthAdjust="spacingAndGlyphs" transform="translate(1674.6,1862.4) rotate(-45)">North</text>
<text class="t cat" textLength="45" lengthAdjust="spacingAndGlyphs" transform="translate(1757.5,1862.4) rotate(-45)">West</text>
<text class="t xl" x="1606.8" y="1940" textLength="64" lengthAdjust="spacingAndGlyphs">District</text>
<rect class="p" x="1790" y="1466.5" width="24.5" height="18"/>
<rect class="o" x="1790" y="1502" width="24.5" height="18"/>
<rect class="g" x="1790" y="1537.6" width="24.5" height="18"/>
<text class="t lg" x="1828.2" y="1484" textLength="99" lengthAdjust="spacingAndGlyphs">July-August</text>
<text class="t lg" x="1828.2" y="1519.5" textLength="175" lengthAdjust="spacingAndGlyphs">November-December</text>
<text class="t lg" x="1828.2" y="1555.1" textLength="105" lengthAdjust="spacingAndGlyphs">March-April</text>
</svg>
</body></html>
